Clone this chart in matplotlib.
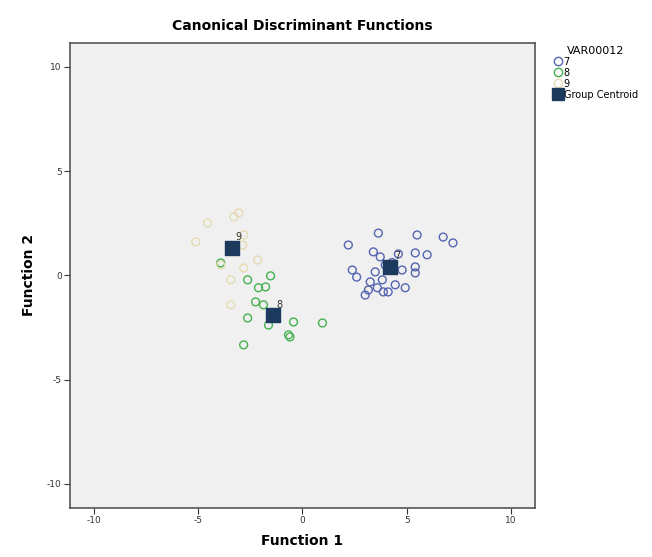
import numpy as np
import matplotlib.pyplot as plt
from matplotlib.lines import Line2D

# group 7
g7_x = [3.64, 2.20, 5.50, 6.75, 7.22, 3.40, 3.73, 5.41, 5.98, 2.39, 3.49, 4.78, 5.41, 5.41,
        3.25, 3.83, 4.45, 4.93, 3.16, 3.88, 4.11, 3.59, 3.01, 3.97, 4.30, 2.60, 4.60]
g7_y = [2.03, 1.46, 1.94, 1.84, 1.56, 1.13, 0.89, 1.08, 0.99, 0.26, 0.17, 0.26, 0.41, 0.12,
        -0.31, -0.21, -0.45, -0.59, -0.70, -0.79, -0.79, -0.59, -0.94, 0.50, 0.62, -0.08, 1.03]
# group 8
g8_x = [-3.92, -2.63, -1.53, -2.11, -1.77, -2.63, -0.43, 0.96, -0.67, -2.82, -1.63, -1.87, -2.25, -0.60]
g8_y = [0.60, -0.21, -0.02, -0.59, -0.55, -2.04, -2.23, -2.28, -2.85, -3.33, -2.38, -1.41, -1.27, -2.95]
# group 9
g9_x = [-3.30, -3.06, -4.55, -5.12, -2.82, -2.15, -2.82, -3.44, -3.92, -3.44, -2.87]
g9_y = [2.81, 3.00, 2.52, 1.61, 1.94, 0.74, 0.36, -0.21, 0.50, -1.41, 1.46]

groups = ['7', '8', '9']
centroid_x = [4.2, -1.43, -3.4]
centroid_y = [0.42, -1.9, 1.33]
colors = ['#5565b0', '#45b24f', '#e6dcb3']

fig = plt.figure(figsize=(6.52, 5.57), dpi=100)
ax = fig.add_axes([0.1074, 0.088, 0.713, 0.835])
ax.set_facecolor('#f0f0f0')

for gx, gy, c in zip([g7_x, g8_x, g9_x], [g7_y, g8_y, g9_y], colors):
    ax.scatter(gx, gy, s=32, facecolors='none', edgecolors=c, linewidths=1.0)

ax.scatter(centroid_x, centroid_y, s=110, marker='s', color='#1c3a5e', zorder=3)
for g, cx, cy in zip(groups, centroid_x, centroid_y):
    ax.text(cx + 0.2, cy + 0.25, g, fontsize=7, color='#333333', ha='left', va='bottom')

ax.set_xlim(-11.15, 11.15)
ax.set_ylim(-11.15, 11.15)
ticks = [-10, -5, 0, 5, 10]
ax.set_xticks(ticks)
ax.set_yticks(ticks)
ax.set_xticklabels([str(t) for t in ticks])
ax.set_yticklabels([str(t) for t in ticks])
ax.tick_params(labelsize=6.5, length=4, colors='#333333', pad=2)
for sp in ax.spines.values():
    sp.set_color('#555555')
    sp.set_linewidth(1.2)

ax.set_xlabel('Function 1', fontsize=10, fontweight='bold', labelpad=6)
ax.set_ylabel('Function 2', fontsize=10, fontweight='bold', labelpad=8)
ax.set_title('Canonical Discriminant Functions', fontsize=10, fontweight='bold', pad=9)

handles = [Line2D([], [], marker='o', linestyle='none', markerfacecolor='none',
                  markeredgecolor=c, markersize=6) for c in colors]
handles.append(Line2D([], [], marker='s', linestyle='none', color='#1c3a5e', markersize=8))
fig.legend(handles, groups + ['Group Centroid'], title='VAR00012', loc='upper left',
           bbox_to_anchor=(0.842, 0.925), frameon=False, fontsize=7, title_fontsize=8,
           handletextpad=0.1, labelspacing=0.1, handlelength=1.0, borderaxespad=0)

fig.savefig('out.png', dpi=100)
